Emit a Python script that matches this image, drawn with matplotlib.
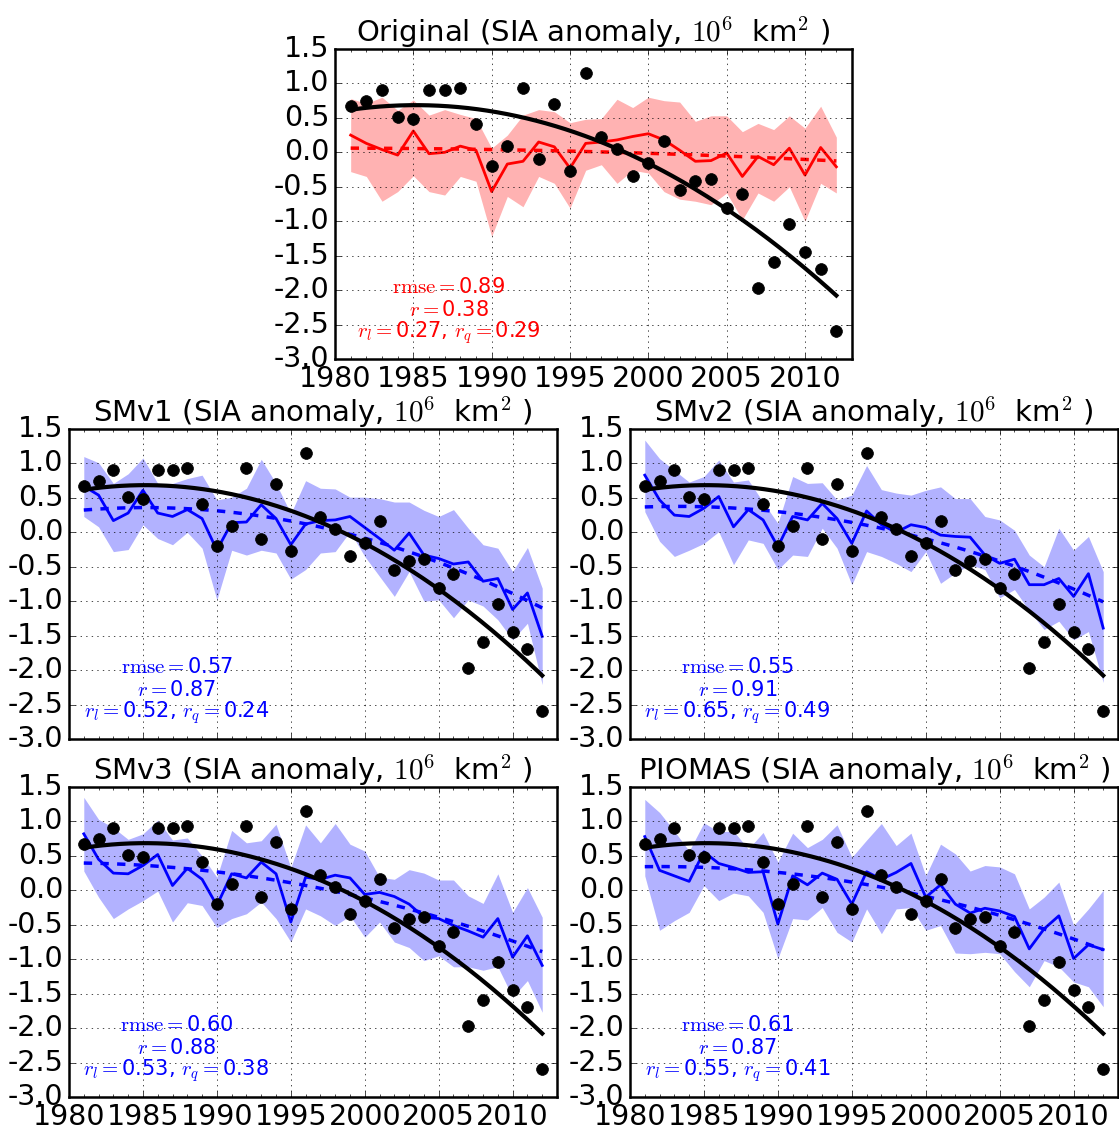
import numpy as np
import matplotlib
matplotlib.use("Agg")
import matplotlib.pyplot as plt
from matplotlib.ticker import MultipleLocator

plt.style.use('classic')
plt.rcParams['axes.unicode_minus'] = False
plt.rcParams['axes.formatter.useoffset'] = False
plt.rcParams['font.size'] = 20

years = list(range(1981, 2013))

# observed SIA anomaly (black dots)
obs = [0.67, 0.75, 0.91, 0.51, 0.49, 0.90, 0.91, 0.94, 0.41, -0.20,
       0.09, 0.93, -0.09, 0.70, -0.27, 1.15, 0.22, 0.05, -0.35, -0.16,
       0.17, -0.54, -0.41, -0.38, -0.81, -0.60, -1.97, -1.59, -1.04, -1.44,
       -1.69, -2.59]

# Original
orig_mean = [0.25, 0.13, 0.04, -0.04, 0.31, -0.02, 0.00, 0.09, 0.03, -0.57,
             -0.17, -0.13, 0.15, 0.08, -0.23, 0.13, 0.15, 0.18, 0.23, 0.27,
             0.18, 0.03, -0.13, -0.12, -0.01, -0.35, -0.06, -0.18, 0.06, -0.33,
             0.07, -0.21]
orig_hi = [0.78, 0.71, 0.80, 0.61, 0.76, 0.54, 0.62, 0.55, 0.49, 0.06,
           0.25, 0.54, 0.62, 0.59, 0.43, 0.48, 0.49, 0.77, 0.65, 0.80,
           0.75, 0.73, 0.45, 0.53, 0.53, 0.30, 0.42, 0.33, 0.53, 0.35,
           0.67, 0.22]
orig_lo = [-0.28, -0.35, -0.71, -0.57, -0.34, -0.57, -0.62, -0.35, -0.42, -1.22,
           -0.64, -0.79, -0.35, -0.45, -0.81, -0.26, -0.18, -0.45, -0.26, -0.30,
           -0.57, -0.68, -0.71, -0.76, -0.59, -0.98, -0.59, -0.71, -0.50, -1.00,
           -0.45, -0.59]

# SMv1
smv1_mean = [0.67, 0.54, 0.17, 0.28, 0.61, 0.28, 0.23, 0.33, 0.20, -0.26,
             0.14, 0.15, 0.40, 0.20, -0.18, 0.12, 0.17, 0.18, 0.23, 0.07,
             -0.09, -0.26, -0.01, -0.33, -0.38, -0.46, -0.43, -0.71, -0.67, -1.12,
             -0.88, -1.51]
smv1_hi = [1.10, 1.01, 0.71, 0.85, 1.08, 0.71, 0.71, 0.78, 0.83, 0.47,
           0.51, 0.64, 1.06, 0.71, 0.27, 0.75, 0.64, 0.63, 0.51, 0.51,
           0.49, 0.44, 0.44, 0.32, 0.23, 0.33, 0.06, -0.18, -0.23, -0.57,
           -0.22, -0.81]
smv1_lo = [0.23, 0.08, -0.28, -0.25, 0.11, -0.09, -0.18, 0.00, -0.23, -0.98,
           -0.26, -0.33, -0.26, -0.30, -0.68, -0.54, -0.30, -0.28, 0.01, -0.35,
           -0.64, -0.93, -0.57, -1.00, -0.98, -1.24, -0.98, -1.07, -1.27, -1.56,
           -1.32, -2.21]

# SMv2
smv2_mean = [0.83, 0.47, 0.25, 0.23, 0.35, 0.52, 0.08, 0.33, 0.18, -0.21,
             0.23, 0.18, 0.42, 0.20, -0.16, 0.31, 0.11, 0.00, 0.11, 0.07,
             -0.04, -0.06, -0.07, -0.33, -0.45, -0.39, -0.76, -0.76, -0.67, -0.93,
             -0.60, -1.39]
smv2_hi = [1.34, 1.07, 0.90, 0.73, 0.81, 1.05, 0.73, 0.76, 0.44, 0.13,
           0.81, 0.71, 0.72, 0.47, 0.54, 0.97, 0.62, 0.57, 0.54, 0.61,
           0.66, 0.49, 0.49, 0.23, 0.18, 0.03, -0.33, -0.50, 0.06, -0.26,
           -0.06, -0.57]
smv2_lo = [0.30, -0.13, -0.35, -0.26, -0.16, 0.01, -0.47, -0.11, -0.16, -0.54,
           -0.33, -0.35, 0.06, -0.23, -0.76, -0.28, -0.35, -0.45, -0.57, -0.28,
           -0.74, -0.59, -0.47, -0.54, -0.95, -0.83, -1.14, -1.41, -1.29, -1.56,
           -1.44, -2.18]

# SMv3
smv3_mean = [0.82, 0.45, 0.25, 0.24, 0.36, 0.52, 0.07, 0.32, 0.16, -0.22,
             0.24, 0.18, 0.41, 0.24, -0.46, 0.19, 0.16, 0.22, 0.18, -0.06,
             -0.03, -0.09, -0.20, -0.39, -0.41, -0.51, -0.59, -0.68, -0.41, -0.97,
             -0.66, -1.09]
smv3_hi = [1.35, 1.03, 0.91, 0.74, 0.82, 1.02, 0.73, 0.76, 0.50, 0.19,
           0.87, 0.69, 0.72, 0.96, 0.33, 0.95, 0.69, 0.97, 0.67, 0.57,
           0.19, 0.16, 0.30, 0.25, 0.15, 0.15, -0.08, -0.19, 0.24, -0.32,
           0.04, -0.39]
smv3_lo = [0.28, -0.10, -0.41, -0.27, -0.15, -0.01, -0.46, -0.18, -0.22, -0.54,
           -0.41, -0.34, -0.17, -0.41, -0.75, -0.27, -0.37, -0.51, -0.37, -0.68,
           -0.46, -0.75, -0.83, -1.02, -0.95, -1.11, -1.11, -1.16, -1.11, -1.55,
           -1.31, -1.77]

# PIOMAS
piomas_mean = [0.78, 0.29, 0.21, 0.13, 0.56, 0.39, 0.33, 0.26, 0.27, -0.49,
               0.21, 0.08, 0.25, 0.16, -0.20, 0.27, 0.16, 0.26, 0.39, -0.10,
               0.08, -0.20, -0.33, -0.26, -0.30, -0.38, -0.85, -0.56, -0.37, -0.99,
               -0.79, -0.86]
piomas_hi = [1.32, 1.13, 0.86, 0.57, 0.98, 0.85, 0.86, 0.60, 0.84, 0.41,
             0.83, 0.62, 0.74, 0.95, 0.48, 0.73, 0.97, 0.65, 0.83, 0.21,
             0.67, 0.53, 0.28, 0.36, 0.34, 0.24, -0.27, -0.10, 0.12, -0.51,
             -0.27, 0.00]
piomas_lo = [0.21, -0.58, -0.44, -0.32, 0.07, -0.15, -0.04, -0.08, -0.32, -0.99,
             -0.41, -0.43, -0.25, -0.61, -0.75, -0.27, -0.63, -0.27, -0.25, -0.58,
             -0.51, -0.91, -0.92, -0.90, -0.92, -1.18, -1.40, -1.02, -1.11, -1.33,
             -1.40, -1.69]

names = ['Original', 'SMv1', 'SMv2', 'SMv3', 'PIOMAS']
stats = [('0.89', '0.38', '0.27', '0.29'),
         ('0.57', '0.87', '0.52', '0.24'),
         ('0.55', '0.91', '0.65', '0.49'),
         ('0.60', '0.88', '0.53', '0.38'),
         ('0.61', '0.87', '0.55', '0.41')]
means = [orig_mean, smv1_mean, smv2_mean, smv3_mean, piomas_mean]
highs = [orig_hi, smv1_hi, smv2_hi, smv3_hi, piomas_hi]
lows = [orig_lo, smv1_lo, smv2_lo, smv3_lo, piomas_lo]
colors = ['r', 'b', 'b', 'b', 'b']

W, H = 1119., 1131.
# axes boxes in pixels: x0, x1, ytop, ybottom
boxes = [(335, 852, 49, 359),
         (69, 557, 429, 739),
         (630, 1118, 429, 739),
         (69, 557, 787, 1097),
         (630, 1118, 787, 1097)]

fig = plt.figure(figsize=(W / 100, H / 100), dpi=100, facecolor='w')

yrs = np.array(years)
xs = np.linspace(1981, 2012, 200)
obs_fit = np.polyval(np.polyfit(yrs, obs, 2), xs)

for i in range(5):
    x0, x1, yt, yb = boxes[i]
    ax = fig.add_axes([x0 / W, 1 - yb / H, (x1 - x0) / W, (yb - yt) / H])
    c = colors[i]
    ax.fill_between(yrs, lows[i], highs[i], color=c, alpha=0.3, lw=0)
    ax.plot(yrs, means[i], color=c, lw=2)
    mfit = np.polyval(np.polyfit(yrs, means[i], 2), xs)
    ax.plot(xs, mfit, '--', color=c, lw=2.5)
    ax.plot(yrs, obs, 'o', color='k', mec='k', ms=8.5)
    ax.plot(xs, obs_fit, '-', color='k', lw=3)

    ax.set_xlim(1980, 2013)
    ax.set_ylim(-3, 1.5)
    ax.set_yticks(np.arange(-3, 1.51, 0.5))
    ax.set_yticklabels(['%.1f' % v for v in np.arange(-3, 1.51, 0.5)])
    ax.set_xticks(range(1980, 2013, 5))
    ax.set_xticklabels([str(y) for y in range(1980, 2013, 5)])
    ax.xaxis.set_minor_locator(MultipleLocator(1))
    ax.tick_params(labelsize=20.5)
    ax.grid(True)
    for s in ax.spines.values():
        s.set_linewidth(1.8)
    if i in (1, 2):
        ax.set_xticklabels([])
    ax.set_title(names[i] + r' (SIA anomaly, $10^6\ $ km$^2$ )', fontsize=21)

    st = stats[i]
    ax.text(0.22, 0.232, r'$\mathrm{rmse}=$' + st[0], transform=ax.transAxes,
            ha='center', va='center', color=c, fontsize=15)
    ax.text(0.22, 0.158, r'$r=$' + st[1], transform=ax.transAxes,
            ha='center', va='center', color=c, fontsize=15)
    ax.text(0.22, 0.084, r'$r_l=$' + st[2] + r', $r_q=$' + st[3],
            transform=ax.transAxes, ha='center', va='center', color=c,
            fontsize=15)

fig.savefig('out.png', dpi=100, facecolor='w')
